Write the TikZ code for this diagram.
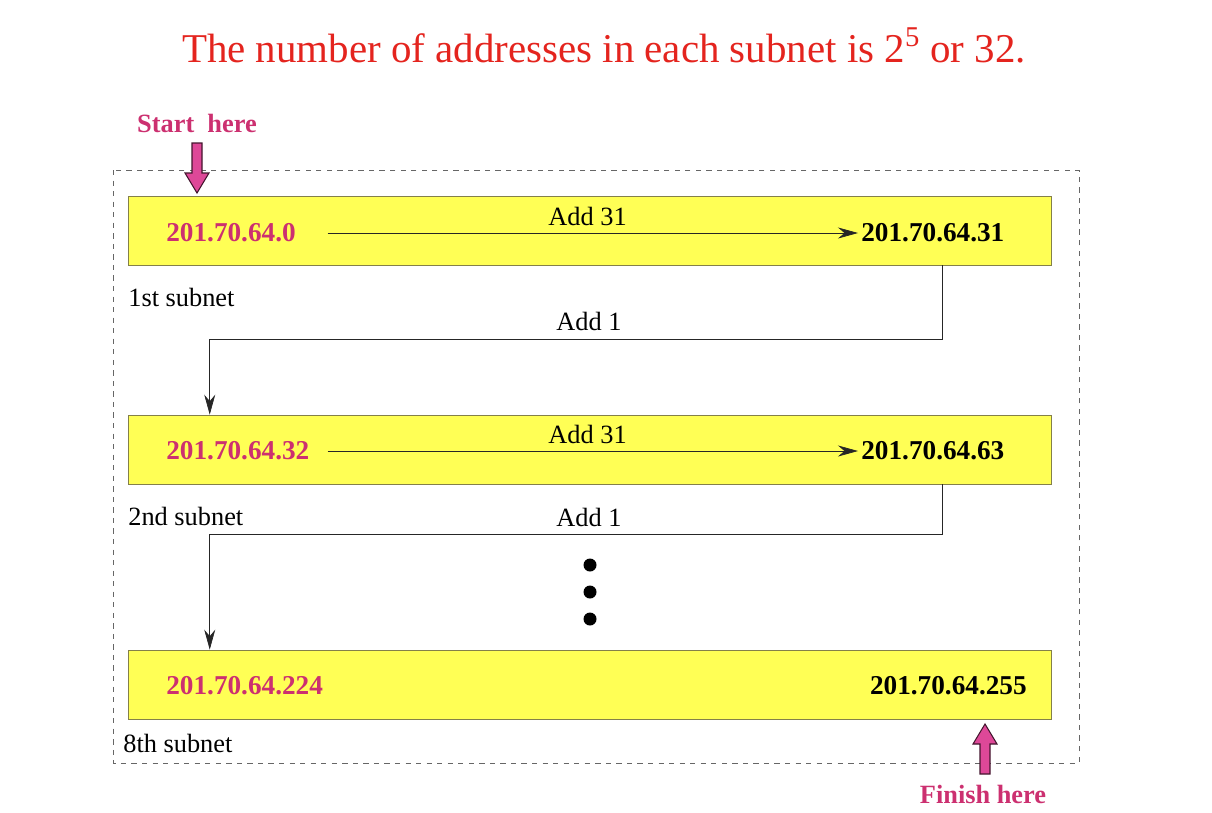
\documentclass[tikz,border=0pt]{standalone}
\usepackage{fontspec}
\setmainfont{Liberation Serif}
\usetikzlibrary{arrows.meta,calc}

\definecolor{titlered}{RGB}{228,36,30}
\definecolor{pinktext}{RGB}{204,48,112}
\definecolor{pinkfill}{RGB}{222,72,152}
\definecolor{boxyellow}{RGB}{255,255,85}

\tikzset{
  subnetbox/.style={draw=black!55!yellow, fill=boxyellow, minimum width=18.46cm,
    minimum height=1.38cm, inner sep=0pt},
  lowaddr/.style={font=\fontsize{15.5}{18}\selectfont\bfseries, text=pinktext, inner sep=0pt},
  highaddr/.style={font=\fontsize{15.5}{18}\selectfont\bfseries, inner sep=0pt},
  plain/.style={font=\fontsize{15}{18}\selectfont, inner sep=0pt},
  flow/.style={draw=black!85, -{Stealth[length=4mm,width=2.2mm]}},
  hint/.style={font=\fontsize{15}{18}\selectfont\bfseries, text=pinktext, inner sep=0pt},
  fatarrow/.pic={
    \filldraw[fill=pinkfill, draw=black!70!pinkfill, line width=0.6pt]
      (0,0) -- (-12,-20) -- (-5,-20) -- (-5,-50) -- (5,-50) -- (5,-20) -- (12,-20) -- cycle;
  }
}

\begin{document}
\begin{tikzpicture}[x=0.02cm, y=-0.02cm]
  \useasboundingbox (0,0) rectangle (1212,812);

  % title
  \node[font=\fontsize{23.3}{28}\selectfont, text=titlered] (title) at (604,45)
    {The number of addresses in each subnet is 2\textsuperscript{5} or 32.};

  % outer frame
  \draw[black!60, dashed] (113,170) rectangle (1079,763);

  % subnets
  \node[subnetbox] (box1) at (589.5,230.5) {};
  \node[subnetbox] (box2) at (589.5,449.5) {};
  \node[subnetbox] (box3) at (589.5,684.5) {};

  \node[lowaddr, anchor=west] (lo1) at (166,233) {201.70.64.0};
  \node[highaddr, anchor=west] (hi1) at (861,233) {201.70.64.31};
  \node[lowaddr, anchor=west] (lo2) at (166,451) {201.70.64.32};
  \node[highaddr, anchor=west] (hi2) at (861,451) {201.70.64.63};
  \node[lowaddr, anchor=west] (lo3) at (166,686) {201.70.64.224};
  \node[highaddr, anchor=east] (hi3) at (1027,686) {201.70.64.255};

  \node[plain, anchor=west] (name1) at (128,297) {1st subnet};
  \node[plain, anchor=west] (name2) at (128,516) {2nd subnet};
  \node[plain, anchor=west] (name3) at (123,743) {8th subnet};

  % add 31 inside a subnet
  \draw[flow] (hi1.west -| {$(box1.west)+(200,0)$}) -- ($(hi1.west)+(-3,0)$)
    node[pos=0.49, above=4pt, plain] {Add 31};
  \draw[flow] (hi2.west -| {$(box2.west)+(200,0)$}) -- ($(hi2.west)+(-3,0)$)
    node[pos=0.49, above=4pt, plain] {Add 31};

  % add 1 to the next subnet
  \draw[flow] ($(box1.south east)+(-109,0)$) |- ($(box2.north west)+(82,-75)$)
    -- ($(box2.north west)+(82,0)$);
  \node[plain] (step1) at (589,321) {Add 1};
  \draw[flow] ($(box2.south east)+(-109,0)$) |- ($(box3.north west)+(82,-115)$)
    -- ($(box3.north west)+(82,0)$);
  \node[plain] (step2) at (589,517) {Add 1};

  % skipped subnets
  \foreach \y in {565,592,619}
    \fill (590,\y) circle (6.5);

  % start and finish
  \node[hint] (start) at (197,123) {Start\ \ here};
  \pic at (197,193) {fatarrow};
  \node[hint] (finish) at (983,794) {Finish here};
  \pic[rotate=180] at (985,724) {fatarrow};
\end{tikzpicture}
\end{document}
